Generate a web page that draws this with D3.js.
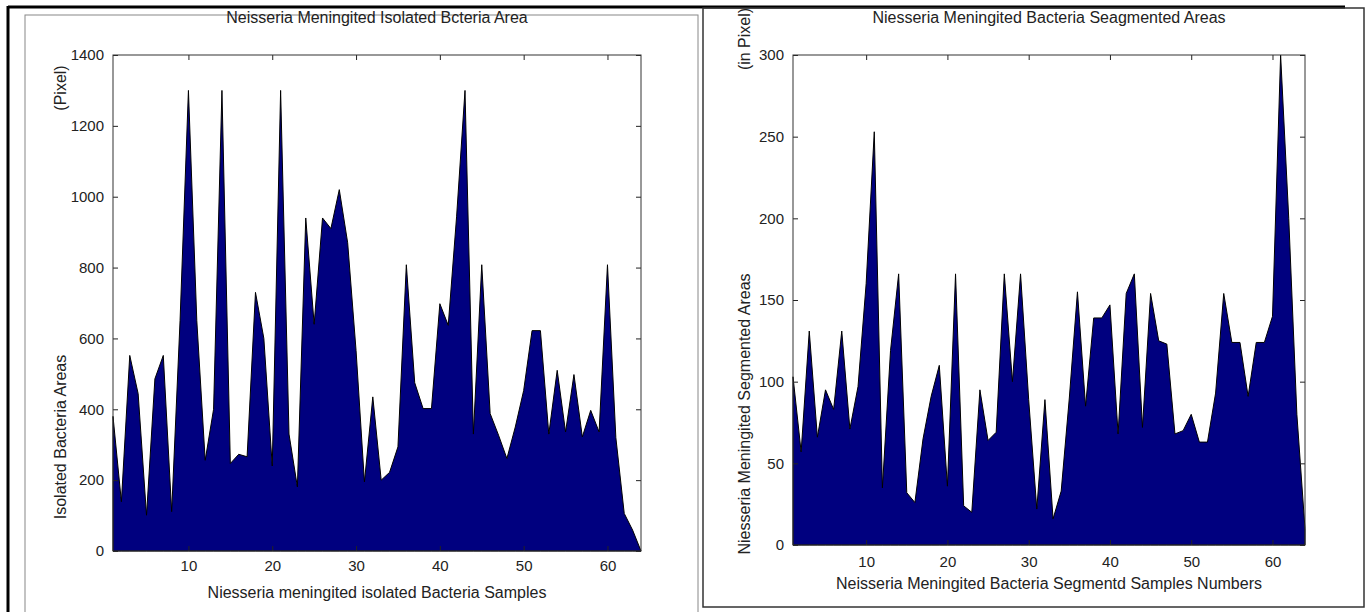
<!DOCTYPE html>
<html>
<head>
<meta charset="utf-8">
<script src="https://cdn.jsdelivr.net/npm/d3@7"></script>
<style>
  body { margin: 0; background: #fff; }
  svg text { font-family: "Liberation Sans", Arial, sans-serif; fill: #222; }
</style>
</head>
<body>
<svg id="chart" width="1369" height="612"></svg>
<script>
// sample numbers 1..64 (x positions of both charts)
const samples = d3.range(1, 65);

// left chart: isolated bacteria area (pixel)
const isolatedAreas = [
  380, 139, 552, 444, 101, 486, 552, 111, 650, 1300,
  650, 256, 400, 1300, 247, 273, 266, 730, 600, 240,
  1300, 330, 181, 940, 640, 940, 910, 1020, 870, 566,
  195, 435, 200, 222, 294, 808, 475, 402, 402, 698,
  637, 945, 1300, 330, 808, 388, 327, 261, 350, 453,
  622, 622, 330, 510, 336, 498, 322, 397, 336, 808,
  320, 106, 59, 0
];

// right chart: segmented areas (in pixel)
const segmentedAreas = [
  103, 57, 131, 66, 95, 83, 131, 71, 97, 160,
  253, 35, 119, 166, 32, 26, 65, 91, 110, 36,
  166, 24, 20, 95, 64, 69, 166, 100, 166, 89,
  22, 89, 16, 33, 90, 155, 85, 139, 139, 147,
  68, 154, 166, 72, 154, 125, 123, 68, 70, 80,
  63, 63, 93, 154, 124, 124, 91, 124, 124, 140,
  300, 200, 80, 10
];

const xTicks = [10, 20, 30, 40, 50, 60];
const leftYTicks = [0, 200, 400, 600, 800, 1000, 1200, 1400];
const rightYTicks = [0, 50, 100, 150, 200, 250, 300];

const svg = d3.select("#chart");

// page frames
svg.append("line").attr("x1", 8).attr("y1", 7).attr("x2", 1345).attr("y2", 7)
  .attr("stroke", "#000").attr("stroke-width", 3);
svg.append("line").attr("x1", 8).attr("y1", 6).attr("x2", 8).attr("y2", 612)
  .attr("stroke", "#000").attr("stroke-width", 3);
svg.append("rect").attr("x", 25).attr("y", 15).attr("width", 673).attr("height", 610)
  .attr("fill", "none").attr("stroke", "#888").attr("stroke-width", 1);
svg.append("rect").attr("x", 703).attr("y", 8).attr("width", 661).attr("height", 599)
  .attr("fill", "none").attr("stroke", "#333").attr("stroke-width", 1.5);

function drawPanel(opt) {
  const x = d3.scaleLinear().domain([1, 64]).range([opt.left, opt.right]);
  const y = d3.scaleLinear().domain([0, opt.yMax]).range([opt.bottom, opt.top]);
  const g = svg.append("g");

  const area = d3.area()
    .x((d, i) => x(samples[i]))
    .y0(y(0))
    .y1(d => y(d));

  g.append("path")
    .datum(opt.values)
    .attr("d", area)
    .attr("fill", "#00007f")
    .attr("stroke", "#000")
    .attr("stroke-width", 1)
    .attr("stroke-miterlimit", 30);

  // axes with inward ticks on all four sides
  const styleAxis = sel => {
    sel.select(".domain").remove();
    sel.selectAll(".tick line").attr("stroke", "#222");
    sel.selectAll(".tick text").attr("font-size", 15).attr("font-family", null).attr("fill", "#222");
  };
  const fmt = d3.format("d");
  g.append("g").attr("transform", `translate(0,${opt.bottom})`)
    .call(d3.axisBottom(x).tickValues(xTicks).tickFormat(fmt).tickSizeInner(-5).tickSizeOuter(0).tickPadding(opt.xPad))
    .call(styleAxis);
  g.append("g").attr("transform", `translate(0,${opt.top})`)
    .call(d3.axisTop(x).tickValues(xTicks).tickSizeInner(-5).tickSizeOuter(0).tickFormat(""))
    .call(styleAxis);
  g.append("g").attr("transform", `translate(${opt.left},0)`)
    .call(d3.axisLeft(y).tickValues(opt.yTicks).tickFormat(fmt).tickSizeInner(-5).tickSizeOuter(0).tickPadding(9))
    .call(styleAxis);
  g.append("g").attr("transform", `translate(${opt.right},0)`)
    .call(d3.axisRight(y).tickValues(opt.yTicks).tickSizeInner(-5).tickSizeOuter(0).tickFormat(""))
    .call(styleAxis);

  g.append("rect")
    .attr("x", opt.left).attr("y", opt.top)
    .attr("width", opt.right - opt.left).attr("height", opt.bottom - opt.top)
    .attr("fill", "none").attr("stroke", "#333").attr("stroke-width", 1);

  const cx = (opt.left + opt.right) / 2;
  g.append("text").attr("x", cx).attr("y", 23).attr("text-anchor", "middle")
    .attr("font-size", 16).text(opt.title);
  g.append("text").attr("x", cx).attr("y", opt.xLabelY).attr("text-anchor", "middle")
    .attr("font-size", 16).text(opt.xLabel);

  opt.yLabels.forEach(l => {
    g.append("text")
      .attr("transform", `translate(${opt.yLabelX},${l.y}) rotate(-90)`)
      .attr("text-anchor", "middle")
      .attr("font-size", 16).text(l.text);
  });
}

drawPanel({
  left: 113, right: 641, top: 55, bottom: 551,
  yMax: 1400, yTicks: leftYTicks, values: isolatedAreas, xPad: 9,
  title: "Neisseria Meningited Isolated Bcteria Area",
  xLabel: "Niesseria meningited isolated Bacteria Samples", xLabelY: 598,
  yLabelX: 66,
  yLabels: [{ text: "(Pixel)", y: 88 }, { text: "Isolated Bacteria Areas", y: 437 }]
});

drawPanel({
  left: 793, right: 1305, top: 55, bottom: 545,
  yMax: 300, yTicks: rightYTicks, values: segmentedAreas, xPad: 11,
  title: "Niesseria Meningited Bacteria Seagmented Areas",
  xLabel: "Neisseria Meningited Bacteria Segmentd Samples Numbers", xLabelY: 589,
  yLabelX: 750,
  yLabels: [{ text: "(in Pixel)", y: 39 }, { text: "Niesseria Meningited Segmented Areas", y: 414 }]
});
</script>
</body>
</html>
